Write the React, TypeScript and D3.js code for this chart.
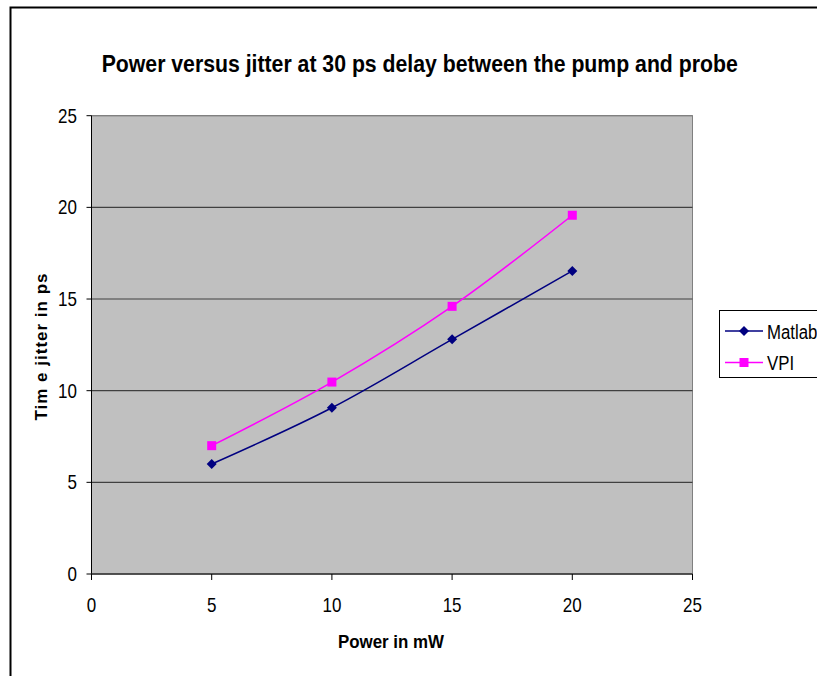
import React, { useLayoutEffect, useRef, useState } from "react";
import * as d3 from "d3";

const powers = [5, 10, 15, 20];
const matlab = [6.0, 9.07, 12.8, 16.53];
const vpi = [7.0, 10.47, 14.6, 19.57];
const xTicks = [0, 5, 10, 15, 20, 25];
const yTicks = [0, 5, 10, 15, 20, 25];
const seriesNames = ["Matlab", "VPI"];
const seriesColors = ["#000080", "#ff00ff"];
const titleText = "Power versus jitter at 30 ps delay between the pump and probe";

export default function App() {
  const W = 817, H = 676;
  const x = d3.scaleLinear().domain([0, 25]).range([91.5, 692.5]);
  const y = d3.scaleLinear().domain([0, 25]).range([574, 115.7]);
  const line = d3
    .line<[number, number]>()
    .x((d) => x(d[0]))
    .y((d) => y(d[1]))
    .curve(d3.curveCatmullRom.alpha(0.5));
  const mPts = powers.map((p, i) => [p, matlab[i]] as [number, number]);
  const vPts = powers.map((p, i) => [p, vpi[i]] as [number, number]);
  const font = "'Liberation Sans', Arial, sans-serif";
  const diamond = (cx: number, cy: number, r: number) =>
    `M${cx},${cy - r}L${cx + r},${cy}L${cx},${cy + r}L${cx - r},${cy}Z`;

  const titleRef = useRef<SVGTextElement>(null);
  const [titleScale, setTitleScale] = useState(0.85);
  useLayoutEffect(() => {
    if (titleRef.current) {
      const len = titleRef.current.getComputedTextLength();
      if (len > 0) setTitleScale(636 / len);
    }
  }, []);

  return (
    <svg
      width={W}
      height={H}
      style={{ position: "absolute", left: 0, top: 0, fontFamily: font }}
    >
      <rect x={0} y={0} width={W} height={H} fill="#fff" />
      <rect x={10.5} y={7.5} width={W + 20} height={H + 20} fill="none" stroke="#000" strokeWidth={2} />
      <text
        ref={titleRef}
        transform={`translate(419.7,71.5) scale(${titleScale},1)`}
        textAnchor="middle"
        fontSize={24}
        fontWeight="bold"
      >
        {titleText}
      </text>
      <rect
        x={x(0)}
        y={y(25)}
        width={x(25) - x(0)}
        height={y(0) - y(25)}
        fill="#c0c0c0"
        stroke="#808080"
        strokeWidth={1}
      />
      {yTicks
        .filter((t) => t > 0)
        .map((t) => (
          <line key={t} x1={x(0)} x2={x(25)} y1={y(t)} y2={y(t)} stroke={t === 25 ? "#808080" : "#404040"} strokeWidth={1.2} />
        ))}
      <line x1={x(0)} x2={x(0)} y1={y(25)} y2={y(0)} stroke="#000" strokeWidth={1} />
      <line x1={x(0)} x2={x(25)} y1={y(0)} y2={y(0)} stroke="#303030" strokeWidth={1.5} />
      {yTicks.map((t) => (
        <g key={"yt" + t}>
          <line x1={x(0) - 5} x2={x(0)} y1={y(t)} y2={y(t)} stroke="#000" />
          <text transform={`translate(77,${y(t) + 7}) scale(0.85,1)`} textAnchor="end" fontSize={20}>
            {t}
          </text>
        </g>
      ))}
      {xTicks.map((t) => (
        <g key={"xt" + t}>
          <line x1={x(t)} x2={x(t)} y1={y(0)} y2={y(0) + 6} stroke="#000" />
          <text transform={`translate(${x(t)},612) scale(0.85,1)`} textAnchor="middle" fontSize={20}>
            {t}
          </text>
        </g>
      ))}
      <text transform="translate(391,648) scale(0.89,1)" textAnchor="middle" fontSize={19} fontWeight="bold">
        Power in mW
      </text>
      <text
        transform="translate(47,346.5) rotate(-90)"
        textAnchor="middle"
        fontSize={17}
        fontWeight="bold"
        letterSpacing={1}
      >
        Tim e jitter in ps
      </text>
      <path d={line(mPts) || ""} fill="none" stroke={seriesColors[0]} strokeWidth={1.5} />
      <path d={line(vPts) || ""} fill="none" stroke={seriesColors[1]} strokeWidth={1.5} />
      {mPts.map((d, i) => (
        <path key={"m" + i} d={diamond(x(d[0]), y(d[1]), 5)} fill={seriesColors[0]} />
      ))}
      {vPts.map((d, i) => (
        <rect key={"v" + i} x={x(d[0]) - 4.5} y={y(d[1]) - 4.5} width={9} height={9} fill={seriesColors[1]} />
      ))}
      <rect x={719.5} y={310.5} width={120} height={67} fill="#fff" stroke="#000" strokeWidth={1} />
      {seriesNames.map((n, i) => {
        const cy = 331 + i * 31.5;
        return (
          <g key={n}>
            <line x1={725} x2={763} y1={cy} y2={cy} stroke={seriesColors[i]} strokeWidth={1.5} />
            {i === 0 ? (
              <path d={diamond(744, cy, 5)} fill={seriesColors[i]} />
            ) : (
              <rect x={739.5} y={cy - 4.5} width={9} height={9} fill={seriesColors[i]} />
            )}
            <text transform={`translate(767,${cy + 7.5}) scale(0.8,1)`} fontSize={21}>
              {n}
            </text>
          </g>
        );
      })}
    </svg>
  );
}
